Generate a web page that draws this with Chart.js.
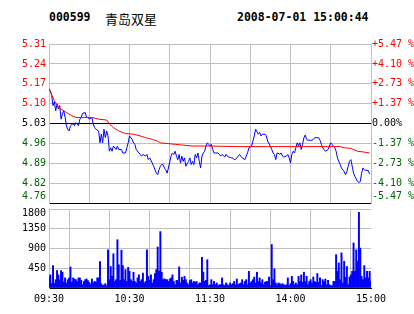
<!DOCTYPE html>
<html><head><meta charset="utf-8">
<script src="https://cdn.jsdelivr.net/npm/chart.js@4"></script>
<style>
html,body{margin:0;padding:0;background:#fff;}
#wrap{position:relative;width:414px;height:314px;overflow:hidden;background:#fff;}
canvas{position:absolute;left:0;top:0;}
.t{position:absolute;top:10px;line-height:14px;white-space:nowrap;color:#000;}
</style></head><body>
<div id="wrap">
<div class="t" id="code" style="left:49px;font:bold 11.5px 'DejaVu Sans Mono',monospace;"></div>
<div class="t" id="name" style="left:105px;top:9px;font:13px 'Noto Sans CJK SC',sans-serif;"></div>
<div class="t" id="stamp" style="left:237px;font:bold 11.5px 'DejaVu Sans Mono',monospace;"></div>
<canvas id="vol" width="414" height="314"></canvas>
<canvas id="price" width="414" height="314"></canvas>
</div>
<script>
const stockCode = '000599';
const stockName = '青岛双星';
const timeStamp = '2008-07-01 15:00:44';
const prevClose = 5.03;

const pctLevels = [5.47, 4.10, 2.73, 1.37, 0, -1.37, -2.73, -4.10, -5.47];
const priceTickLabels = ['5.31','5.24','5.17','5.10','5.03','4.96','4.89','4.82','4.76'];
const pctTickLabels = ['+5.47 %','+4.10 %','+2.73 %','+1.37 %','0.00%','-1.37 %','-2.73 %','-4.10 %','-5.47 %'];
const volumeTicks = [0, 450, 900, 1350, 1800];
const timeTickMinutes = [0, 30, 60, 90, 120, 150, 180, 210, 240];
const timeTickLabels = ['09:30','','10:30','','11:30','','14:00','','15:00'];

const priceMinutes = [0,1,2,3,4,5,6,7,8,9,10,11,12,13,14,15,16,18,19,20,22,23,24,25,27,28,29,30,32,33,34,35,37,38,39,40,41,42,43,44,45,46,47,48,50,51,52,54,55,57,58,59,60,62,63,64,65,67,68,69,70,72,73,74,75,77,78,79,80,81,82,83,84,85,86,87,88,89,91,92,93,94,95,96,97,98,99,100,101,102,104,105,106,107,108,109,110,111,112,113,114,115,116,117,118,119,120,
121,122,123,124,126,127,128,129,131,132,133,134,136,137,138,139,141,142,143,144,146,147,148,149,151,152,153,154,156,157,158,159,161,162,163,165,166,167,168,169,170,172,173,174,175,177,178,179,180,181,182,183,184,185,186,187,188,189,190,191,192,193,195,196,197,198,200,201,202,203,204,205,206,208,209,210,211,213,214,215,216,217,218,220,221,222,223,224,225,226,227,228,230,231,232,233,234,235,237,238,239];
const prices = [5.150,5.144,5.127,5.092,5.105,5.074,5.098,5.080,5.092,5.045,5.063,5.074,5.052,5.022,5.010,5.004,5.022,5.030,5.022,5.033,5.022,5.045,5.051,5.065,5.068,5.051,5.051,5.045,5.051,5.028,5.016,5.010,5.004,4.963,4.993,4.963,5.010,4.981,5.004,4.987,4.934,4.946,4.934,4.952,4.940,4.952,4.940,4.940,4.928,4.928,4.946,4.963,4.987,4.975,4.963,4.958,4.940,4.928,4.923,4.917,4.923,4.917,4.923,4.905,4.911,4.893,4.882,4.870,4.858,4.853,4.870,4.882,4.888,4.888,4.876,4.870,4.858,4.876,4.917,4.928,4.923,4.934,4.917,4.905,4.923,4.893,4.917,4.899,4.911,4.882,4.899,4.911,4.888,4.899,4.888,4.923,4.911,4.928,4.899,4.876,4.917,4.928,4.934,4.952,4.963,4.958,4.952,
4.958,4.940,4.928,4.928,4.928,4.923,4.917,4.923,4.914,4.923,4.917,4.914,4.911,4.911,4.905,4.905,4.917,4.923,4.917,4.911,4.905,4.917,4.928,4.946,4.952,4.969,4.987,5.010,4.993,4.999,4.987,4.993,4.993,4.987,4.969,4.952,4.940,4.928,4.923,4.905,4.928,4.924,4.928,4.917,4.914,4.917,4.923,4.911,4.893,4.923,4.934,4.928,4.946,4.963,4.952,4.963,4.940,4.958,4.981,4.990,4.975,4.972,4.972,4.972,4.975,4.981,4.981,4.981,4.972,4.958,4.946,4.940,4.934,4.940,4.952,4.963,4.958,4.946,4.934,4.911,4.899,4.888,4.876,4.864,4.853,4.864,4.882,4.899,4.905,4.882,4.858,4.847,4.829,4.826,4.829,4.858,4.876,4.870,4.867,4.867,4.855];

const avgMinutes = [0,4,7,9,13,17,20,24,32,37,43,45,48,52,57,63,68,72,77,81,83,94,107,120,140,162,190,217,220,225,230,235,239];
const avgPrices = [5.150,5.109,5.088,5.080,5.068,5.057,5.051,5.051,5.051,5.045,5.042,5.028,5.016,5.004,4.995,4.993,4.987,4.981,4.975,4.969,4.963,4.958,4.952,4.952,4.950,4.950,4.950,4.950,4.946,4.944,4.934,4.931,4.928];

const volumes = [250,300,100,510,110,190,400,300,190,395,360,140,230,110,190,230,480,130,230,205,190,150,230,230,175,
75,150,190,205,170,130,90,205,115,150,135,230,230,600,100,55,
75,100,55,870,190,490,265,780,150,190,1100,530,175,860,510,190,420,150,470,380,190,150,360,150,115,230,300,150,190,340,115,150,870,265,175,300,115,190,330,420,935,380,1285,360,190,210,190,190,150,
205,230,300,150,75,175,170,480,115,245,175,265,190,115,75,170,190,115,150,
130,150,75,115,115,700,360,150,175,645,55,75,
190,75,150,75,115,55,75,75,230,75,
55,115,75,55,115,75,100,150,75,205,
75,100,
115,190,75,150,190,75,380,115,150,190,
250,115,360,150,230,115,190,75,130,150,
150,250,55,990,190,435,115,75,115,100,75,
100,75,55,75,230,55,100,265,150,75,
115,75,265,150,300,130,360,150,265,75,
150,190,115,250,150,130,330,130,230,55,
190,150,205,75,175,75,55,55,150,150,
760,380,570,190,800,115,610,245,490,75,
250,300,380,1025,380,870,610,1725,910,265,
190,510,230,380,230,380,150];

document.getElementById('code').textContent = stockCode;
document.getElementById('name').textContent = stockName;
document.getElementById('stamp').textContent = timeStamp;

const GRID = '#c0c0c0';
const RED = '#ff0000', GREEN = '#006400', BLUE = '#0000ff';
const yMin = prevClose * (1 + pctLevels[8] / 100);
const yMax = prevClose * (1 + pctLevels[0] / 100);
const n = pctLevels.length;
const priceTickValues = pctLevels.map(p => prevClose * (1 + p / 100)).reverse(); // ascending
const tickColor = ctx => {
  const i = n - 1 - ctx.index;
  return pctLevels[i] > 0 ? RED : (pctLevels[i] < 0 ? GREEN : '#000');
};
// bottom price label sits above its line; top volume label sits below its line
const priceLabel = (arr) => (v, i) => i === 0 ? [arr[n - 1 - i], ''] : arr[n - 1 - i];
const priceFont = ctx => (ctx.index === 0 ? { size: 10, lineHeight: 1.26 } : { size: 10 });
const volFont = ctx => (ctx.index === volumeTicks.length - 1 ? { size: 10, lineHeight: 0.8 } : { size: 10 });

Chart.defaults.font.family = "'DejaVu Sans Mono', monospace";
Chart.defaults.font.size = 10;
Chart.defaults.color = '#000';

const common = {
  responsive: false, animation: false, devicePixelRatio: 1,
  plugins: { legend: { display: false }, tooltip: { enabled: false }, title: { display: false } }
};

new Chart(document.getElementById('price'), {
  type: 'line',
  data: { datasets: [
    { data: avgMinutes.map((m, i) => ({ x: m, y: avgPrices[i] })), borderColor: RED, borderWidth: 1, pointRadius: 0, tension: 0, fill: false },
    { data: priceMinutes.map((m, i) => ({ x: m, y: prices[i] })), borderColor: BLUE, borderWidth: 1, pointRadius: 0, tension: 0, fill: false }
  ] },
  options: Object.assign({}, common, {
    layout: { padding: { top: 44, bottom: 111, left: 0, right: 0 } },
    scales: {
      x: { type: 'linear', min: 0, max: 240,
        afterBuildTicks: s => { s.ticks = timeTickMinutes.map(v => ({ value: v })); },
        ticks: { display: false }, grid: { color: GRID, drawTicks: false }, border: { display: false },
        afterFit: s => { s.height = 0; } },
      y: { position: 'left', min: yMin, max: yMax,
        afterBuildTicks: s => { s.ticks = priceTickValues.map(v => ({ value: v })); },
        ticks: { callback: priceLabel(priceTickLabels), color: tickColor, font: priceFont, padding: 3, autoSkip: false },
        grid: { color: ctx => (ctx.index === 0 || ctx.index === 4) ? '#000' : GRID, drawTicks: false },
        border: { color: GRID },
        afterFit: s => { s.width = 49; } },
      yPct: { position: 'right', min: yMin, max: yMax,
        afterBuildTicks: s => { s.ticks = priceTickValues.map(v => ({ value: v })); },
        ticks: { callback: priceLabel(pctTickLabels), color: tickColor, font: priceFont, padding: 1, autoSkip: false },
        grid: { display: false, drawTicks: false },
        border: { color: GRID },
        afterFit: s => { s.width = 43; } }
    }
  })
});

new Chart(document.getElementById('vol'), {
  type: 'bar',
  data: { datasets: [
    { data: volumes.map((v, i) => ({ x: i, y: v })), backgroundColor: BLUE, borderWidth: 0, barThickness: 1.3 }
  ] },
  options: Object.assign({}, common, {
    layout: { padding: { top: 209, bottom: 0, left: 0, right: 43 } },
    scales: {
      x: { type: 'linear', min: 0, max: 240, offset: false,
        afterBuildTicks: s => { s.ticks = timeTickMinutes.map(v => ({ value: v })); },
        ticks: { callback: (v, i) => timeTickLabels[i], maxRotation: 0, autoSkip: false, padding: 5 },
        grid: { color: GRID, drawTicks: false }, border: { color: '#000' },
        afterFit: s => { s.height = 26; } },
      y: { position: 'left', min: 0, max: 1800,
        afterBuildTicks: s => { s.ticks = volumeTicks.map(v => ({ value: v })); },
        ticks: { callback: (v, i) => (v === 0 ? '' : (i === volumeTicks.length - 1 ? ['', String(v)] : String(v))), font: volFont, padding: 3, autoSkip: false },
        grid: { color: ctx => ctx.index === 0 ? '#000' : GRID, drawTicks: false },
        border: { color: GRID },
        afterFit: s => { s.width = 49; } }
    }
  })
});
</script>
</body></html>
